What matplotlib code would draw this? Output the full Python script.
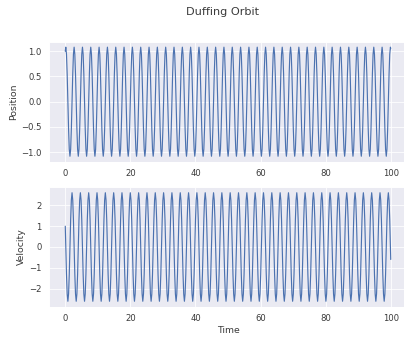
import matplotlib
matplotlib.use("Agg")
import matplotlib.pyplot as plt
import seaborn as sns

# Times at which the position reaches a peak
peak_times = [0.16, 2.72, 5.28, 7.83, 10.39, 12.95, 15.51, 18.06, 20.62, 23.18,
              25.74, 28.29, 30.85, 33.41, 35.97, 38.52, 41.08, 43.64, 46.20, 48.75,
              51.31, 53.87, 56.43, 58.98, 61.54, 64.10, 66.66, 69.22, 71.77, 74.33,
              76.89, 79.45, 82.00, 84.56, 87.12, 89.68, 92.23, 94.79, 97.35, 99.91]

# Estimated shape of one cycle (peak to peak), sampled at these fractions
cycle_phase = [0.0, 0.083, 0.167, 0.25, 0.333, 0.417, 0.5, 0.583, 0.667, 0.75, 0.833, 0.917]
position_shape = [1.08, 0.94, 0.54, 0.0, -0.54, -0.94, -1.08, -0.94, -0.54, 0.0, 0.54, 0.94]
velocity_shape = [0.0, -1.31, -2.26, -2.61, -2.26, -1.31, 0.0, 1.31, 2.26, 2.61, 2.26, 1.31]

# Start and end states
start_time, start_position, start_velocity = 0.0, 1.0, 1.0
end_time, end_position, end_velocity = 100.0, 1.05, -0.6

time = [start_time]
position = [start_position]
velocity = [start_velocity]
for k in range(len(peak_times) - 1):
    t0, t1 = peak_times[k], peak_times[k + 1]
    for f, xp, vp in zip(cycle_phase, position_shape, velocity_shape):
        time.append(t0 + f * (t1 - t0))
        position.append(xp)
        velocity.append(vp)
time.append(peak_times[-1]); position.append(position_shape[0]); velocity.append(velocity_shape[0])
time.append(end_time); position.append(end_position); velocity.append(end_velocity)

sns.set_theme()
text_color = "#3a3a3a"
plt.rcParams.update({"text.color": text_color, "axes.labelcolor": text_color,
                     "xtick.color": text_color, "ytick.color": text_color})
dpi = 56
fig = plt.figure(figsize=(404 / dpi, 337 / dpi), dpi=dpi)

W, H = 404.0, 337.0
ax1 = fig.add_axes([49 / W, 1 - 161.7 / H, 358 / W, 120 / H])
ax2 = fig.add_axes([49 / W, 1 - 306.7 / H, 358 / W, 119.4 / H])

ax1.plot(time, position)
ax1.set_ylabel("Position")
ax2.plot(time, velocity)
ax2.set_ylabel("Velocity")
ax2.set_xlabel("Time")

fig.suptitle("Duffing Orbit", x=222.5 / W)
fig.savefig("out.png", dpi=dpi)
